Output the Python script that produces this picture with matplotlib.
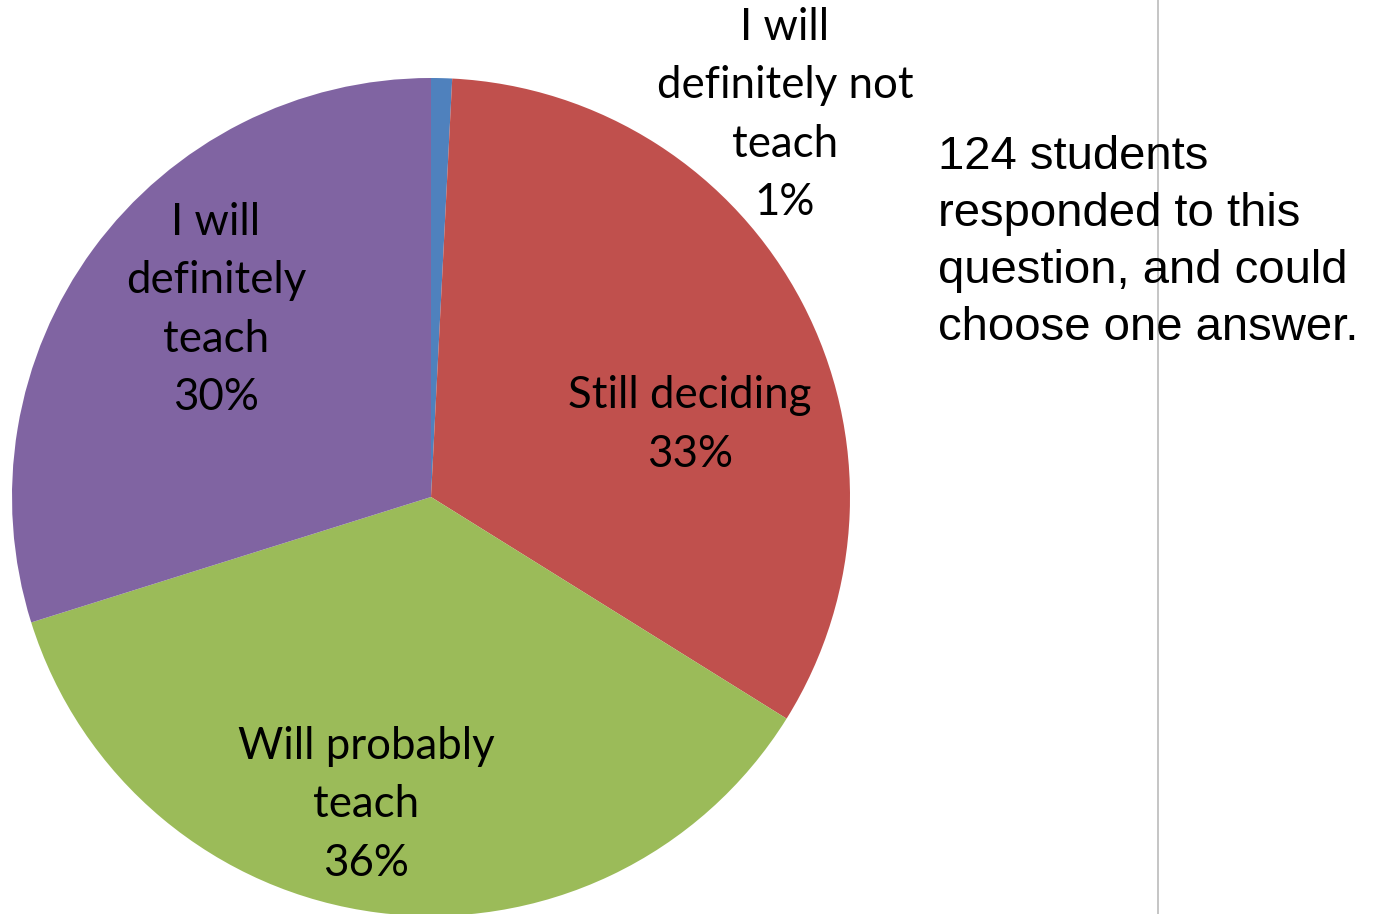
import matplotlib
matplotlib.use("Agg")
import matplotlib.pyplot as plt

categories = ["I will\ndefinitely not\nteach", "Still deciding", "Will probably\nteach", "I will\ndefinitely\nteach"]
counts = [1, 41, 45, 37]
percent_labels = ["1%", "33%", "36%", "30%"]
colors = ["#4F81BD", "#C0504D", "#9BBB59", "#8064A2"]
note = "124 students\nresponded to this\nquestion, and could\nchoose one answer."

W, H = 1375, 914
fig = plt.figure(figsize=(W / 100, H / 100), dpi=100)
cx, cy, r = 431, 497, 419
ax = fig.add_axes([(cx - r) / W, (H - cy - r) / H, 2 * r / W, 2 * r / H])
ax.pie(counts, colors=colors, startangle=90, counterclock=False, radius=1.0,
       wedgeprops=dict(linewidth=0))
ax.set_xlim(-1, 1)
ax.set_ylim(-1, 1)
ax.set_aspect("equal")
ax.axis("off")

label_pos = [(0.845, 0.912), (0.618, 0.172), (-0.155, -0.735), (-0.513, 0.446)]
for cat, pct, (x, y) in zip(categories, percent_labels, label_pos):
    ax.text(x, y, cat + "\n" + pct, ha="center", va="center", fontsize=31.5,
            family="Lato", linespacing=1.53, color="black", clip_on=False)

fig.text(938 / W, 1 - 135 / H, note, ha="left", va="top", fontsize=34,
         family="Liberation Sans", linespacing=1.385)

fig.add_artist(plt.Line2D([1158 / W, 1158 / W], [0, 1], color="#BBBBBB", lw=1.2))

fig.savefig("out.png", dpi=100)
